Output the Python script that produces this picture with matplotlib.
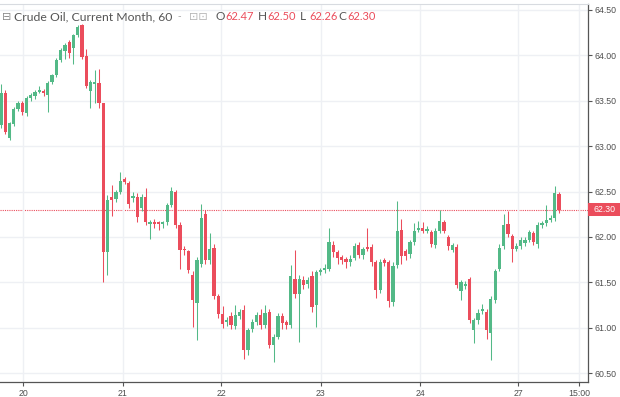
import matplotlib
matplotlib.use("Agg")
import matplotlib.pyplot as plt
import matplotlib.transforms as mtransforms
from matplotlib.patches import Rectangle
import numpy as np

# hourly OHLC, crude oil current month
opens = [63.23, 63.59, 63.09, 63.24, 63.41, 63.48, 63.37, 63.53, 63.55, 63.60,
         63.61, 63.56, 63.71, 63.78, 63.95, 64.05, 64.15, 64.08, 64.22, 64.33,
         63.99, 63.61, 63.69, 63.70, 63.47, 61.83, 62.44, 62.42, 62.49, 62.64,
         62.59, 62.43, 62.44, 62.32, 62.44, 62.14, 62.16, 62.16, 62.14, 62.16,
         62.35, 62.49, 62.13, 61.87, 61.84, 61.58, 61.27, 61.70, 62.25, 61.74,
         61.88, 61.35, 61.15, 61.06, 61.13, 61.02, 61.13, 61.19, 60.75, 60.98,
         61.06, 61.14, 61.03, 61.17, 60.81, 60.90, 61.13, 61.06, 61.03, 61.54,
         61.37, 61.53, 61.48, 61.57, 61.25, 61.61, 61.63, 61.65, 61.91, 61.83,
         61.78, 61.76, 61.72, 61.77, 61.91, 61.80, 61.89, 61.89, 61.72, 61.42,
         61.74, 61.72, 61.28, 61.69, 62.08, 61.84, 61.81, 61.94, 62.08, 62.10,
         62.07, 62.05, 61.91, 62.07, 62.16, 62.00, 61.86, 61.89, 61.40, 61.46,
         61.54, 60.97, 61.08, 61.18, 61.17, 60.94, 61.30, 61.65, 61.90, 62.14,
         62.01, 61.87, 61.90, 61.93, 61.97, 62.04, 61.92, 62.13, 62.15, 62.19,
         62.21, 62.47]
highs = [63.69, 63.62, 63.27, 63.43, 63.50, 63.50, 63.55, 63.58, 63.62, 63.66,
         63.63, 63.72, 63.80, 63.97, 64.08, 64.14, 64.17, 64.24, 64.33, 64.35,
         64.07, 63.73, 63.84, 63.85, 63.48, 62.46, 62.57, 62.52, 62.72, 62.66,
         62.62, 62.50, 62.48, 62.47, 62.54, 62.19, 62.20, 62.18, 62.18, 62.37,
         62.55, 62.52, 62.16, 61.90, 61.86, 61.62, 61.78, 62.36, 62.30, 62.04,
         61.92, 61.37, 61.24, 61.12, 61.17, 61.25, 61.20, 61.25, 61.00, 61.09,
         61.17, 61.20, 61.25, 61.20, 60.93, 61.16, 61.16, 61.08, 61.69, 61.86,
         61.58, 61.57, 61.56, 61.62, 61.64, 61.66, 61.70, 62.10, 61.95, 61.86,
         61.80, 61.78, 61.80, 61.93, 61.94, 61.89, 62.10, 61.92, 61.75, 61.76,
         61.77, 61.75, 61.72, 62.40, 62.20, 61.87, 61.97, 62.15, 62.18, 62.16,
         62.12, 62.08, 62.10, 62.30, 62.19, 62.02, 61.93, 61.92, 61.52, 61.51,
         61.56, 61.11, 61.20, 61.26, 61.20, 61.35, 61.65, 61.92, 62.25, 62.28,
         62.03, 61.93, 62.00, 62.00, 62.08, 62.07, 62.16, 62.18, 62.35, 62.24,
         62.56, 62.50]
lows = [63.20, 63.13, 63.07, 63.22, 63.39, 63.34, 63.33, 63.50, 63.52, 63.58,
        63.55, 63.38, 63.69, 63.76, 63.93, 63.96, 63.97, 63.90, 64.20, 63.96,
        63.64, 63.42, 63.48, 63.42, 61.50, 61.58, 62.23, 62.38, 62.47, 62.58,
        62.32, 62.38, 62.16, 62.28, 62.13, 61.98, 62.10, 62.08, 62.10, 62.13,
        62.33, 62.10, 61.65, 61.80, 61.60, 61.01, 60.86, 61.67, 61.70, 61.70,
        61.32, 61.11, 61.00, 61.02, 60.99, 60.98, 61.10, 60.65, 60.70, 60.95,
        61.03, 60.99, 61.00, 60.78, 60.62, 60.87, 60.98, 60.98, 61.00, 61.33,
        60.84, 61.43, 61.44, 61.17, 61.01, 61.58, 61.60, 61.62, 61.78, 61.70,
        61.70, 61.66, 61.68, 61.74, 61.77, 61.76, 61.84, 61.68, 61.33, 61.38,
        61.68, 61.23, 61.24, 61.66, 61.70, 61.74, 61.77, 61.91, 62.05, 62.04,
        62.04, 61.89, 61.88, 62.04, 62.04, 61.86, 61.83, 61.44, 61.30, 61.43,
        61.05, 60.83, 61.04, 61.15, 60.88, 60.64, 61.27, 61.62, 61.87, 62.00,
        61.72, 61.84, 61.87, 61.90, 61.94, 61.91, 61.88, 62.10, 62.12, 62.16,
        62.18, 62.26]
closes = [63.59, 63.16, 63.25, 63.41, 63.48, 63.38, 63.53, 63.56, 63.60, 63.62,
          63.59, 63.70, 63.78, 63.95, 64.06, 64.11, 64.03, 64.22, 64.31, 63.98,
          63.66, 63.71, 63.70, 63.48, 61.83, 62.41, 62.41, 62.49, 62.62, 62.61,
          62.36, 62.45, 62.22, 62.44, 62.16, 62.16, 62.14, 62.14, 62.16, 62.35,
          62.51, 62.13, 61.86, 61.85, 61.64, 61.30, 61.75, 62.21, 61.74, 61.87,
          61.35, 61.15, 61.04, 61.08, 61.03, 61.14, 61.17, 60.75, 60.97, 61.06,
          61.14, 61.03, 61.16, 60.81, 60.90, 61.13, 61.05, 61.03, 61.57, 61.37,
          61.54, 61.47, 61.52, 61.23, 61.61, 61.63, 61.66, 61.94, 61.83, 61.77,
          61.75, 61.72, 61.76, 61.90, 61.80, 61.87, 61.87, 61.72, 61.42, 61.72,
          61.71, 61.29, 61.68, 62.07, 61.79, 61.79, 61.94, 62.07, 62.10, 62.07,
          62.09, 61.92, 62.07, 62.17, 62.07, 61.90, 61.91, 61.47, 61.50, 61.48,
          61.08, 61.08, 61.16, 61.21, 60.97, 61.32, 61.62, 61.88, 62.13, 62.03,
          61.87, 61.90, 61.97, 61.97, 62.05, 61.94, 62.13, 62.15, 62.19, 62.21,
          62.48, 62.30]

day_labels = ["20", "21", "22", "23", "24", "27", "15:00"]
day_pos = [5.16, 28.64, 51.64, 75.1, 98.4, 121.4, 135.7]
price_ticks = [60.5, 61.0, 61.5, 62.0, 62.5, 63.0, 63.5, 64.0, 64.5]

UP = "#53b987"
DOWN = "#eb4d5c"
GRID = "#eef0f4"
TXT = "#4f4f4f"

W, H = 620, 397
fig = plt.figure(figsize=(6.2, 3.97), dpi=100)
ax = fig.add_axes([0, 1 - 382 / H, 588 / W, (382 - 4) / H])

o = np.array(opens)
c = np.array(closes)
hi = np.array(highs)
lo = np.array(lows)
x = np.arange(len(o))
cols = np.where(c >= o, UP, DOWN)

ax.vlines(x, lo, hi, colors=cols, linewidth=0.75, zorder=2)
body = np.maximum(np.abs(c - o), 0.012)
ax.bar(x, body, bottom=np.minimum(o, c), width=0.76, color=cols,
       linewidth=0, zorder=3)

ax.set_xlim(-0.235, 137.8)
ax.set_ylim(60.401, 64.566)

ax.set_yticks(price_ticks)
ax.set_yticklabels([f"{p:.2f}" for p in price_ticks])
ax.yaxis.tick_right()
ax.set_xticks(day_pos)
ax.set_xticklabels(day_labels)
ax.grid(True, color=GRID, linewidth=1, zorder=0)
ax.tick_params(axis="both", labelsize=6.3, colors="#555555", labelcolor=TXT,
               length=3, width=0.8, pad=2)
for lab in ax.get_xticklabels() + ax.get_yticklabels():
    lab.set_fontfamily("Liberation Sans")

ax.spines["left"].set_visible(False)
ax.spines["top"].set_color("#d8dbe0")
ax.spines["right"].set_color("#555555")
ax.spines["bottom"].set_color("#555555")
ax.spines["right"].set_linewidth(0.9)
ax.spines["bottom"].set_linewidth(0.9)

# last price line + label
last = closes[-1]
ax.axhline(last, color=DOWN, linestyle=(0, (1, 1)), linewidth=0.8, zorder=1)
tr = mtransforms.blended_transform_factory(ax.transAxes, ax.transData)
ax.add_patch(Rectangle((1.0, last - 0.068), 32 / 588, 0.136, transform=tr,
                       facecolor=DOWN, edgecolor="none", clip_on=False, zorder=5))
ax.text(1.0 + 16 / 588, last, f"{last:.2f}", transform=tr, color="white",
        fontsize=6.3, ha="center", va="center", family="Liberation Sans",
        clip_on=False, zorder=6)

# legend line at top
def fx(px):
    return px / W

def fy(py):
    return 1 - py / H

fig.text(fx(2), fy(17), "⊟", color="#8a8a8a", fontsize=8, va="center", ha="left")
fig.text(fx(14), fy(17), "Crude Oil, Current Month, 60", color="#555555",
         fontsize=8.8, va="center", ha="left", family="Lato")
fig.text(fx(178), fy(16), "-", color="#aaaaaa", fontsize=7, va="center", ha="left")
fig.text(fx(189), fy(17), "⊡⊡", color="#b5b5b5", fontsize=8, va="center", ha="left")
ohlc = [("O", opens[-1], 216), ("H", highs[-1], 258), ("L", lows[-1], 300),
        ("C", closes[-1], 338)]
for letter, val, px in ohlc:
    fig.text(fx(px), fy(17), letter, color="#555555", fontsize=8.6, va="center",
             ha="left", family="Lato")
    fig.text(fx(px + 9), fy(17), f"{val:.2f}", color=DOWN, fontsize=8.0,
             va="center", ha="left", family="Lato")

fig.savefig("out.png", dpi=100, facecolor="white")
